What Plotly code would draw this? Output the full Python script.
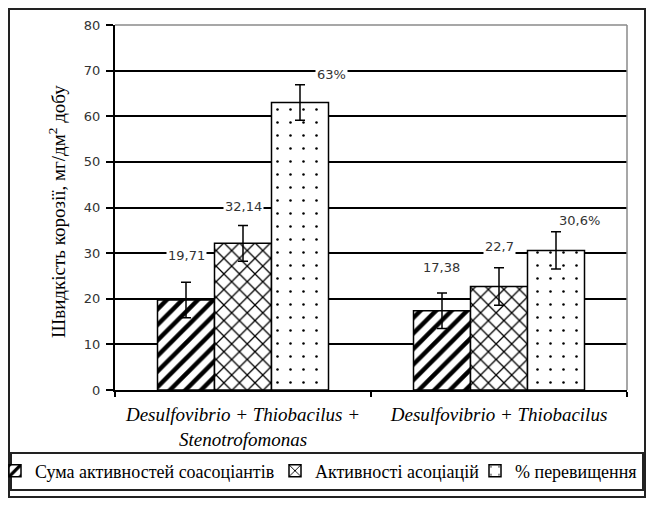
import plotly.graph_objects as go

# ---- data ----
categories = ["Desulfovibrio + Thiobacilus +<br>Stenotrofomonas", "Desulfovibrio + Thiobacilus"]
series_names = ["Сума активностей соасоціантів", "Активності асоціацій", "% перевищення"]
sum_activity = [19.71, 17.38]
assoc_activity = [32.14, 22.7]
excess_pct = [63.0, 30.6]
sum_err = [3.9, 3.9]
assoc_err = [3.9, 4.1]
excess_err = [3.9, 4.1]
sum_labels = ["19,71", "17,38"]
assoc_labels = ["32,14", "22,7"]
excess_labels = ["63%", "30,6%"]
y_ticks = [0, 10, 20, 30, 40, 50, 60, 70, 80]

# ---- style ----
OFF = 8                      # browser body margin
W, H = 658 - OFF, 508 - OFF
PLOT_L, PLOT_R, PLOT_T, PLOT_B = 115, 627, 25, 390   # page pixels
ML, MR, MT, MB = PLOT_L - OFF, W - (PLOT_R - OFF), PLOT_T - OFF, H - (PLOT_B - OFF)
PW, PH = PLOT_R - PLOT_L, PLOT_B - PLOT_T
BARGAP = 0.332
bar_px = PW / len(categories) * (1 - BARGAP) / 3

patterns = [
    dict(shape="/", size=11, solidity=0.4, fgcolor="black", bgcolor="white", fillmode="replace"),
    dict(shape="x", size=11, solidity=0.22, fgcolor="black", bgcolor="white", fillmode="replace"),
    dict(shape=".", size=13, solidity=0.03, fgcolor="black", bgcolor="white", fillmode="replace"),
]
# label offsets (px) relative to the top of each error bar: [series][category]
label_dx = [[0.5, 0], [0, 0], [31, 23.5]]
label_dy = [[27, 25], [19, 21], [10, 11]]
# legend text start positions (page px)
legend_text_x = [35, 315, 515]
legend_names = ["legend", "legend2", "legend3"]

serif = "Liberation Serif"
sans = "DejaVu Sans"


def px_x(p):
    return (p - PLOT_L) / PW


def px_y(p):
    return (PLOT_B - p) / PH


values = [sum_activity, assoc_activity, excess_pct]
errors = [sum_err, assoc_err, excess_err]
labels = [sum_labels, assoc_labels, excess_labels]

fig = go.Figure()
for i in range(3):
    fig.add_trace(go.Bar(
        x=categories, y=values[i], name=series_names[i], legend=legend_names[i],
        marker=dict(color="white", pattern=patterns[i], line=dict(color="black", width=1.5)),
        error_y=dict(type="data", array=errors[i], visible=True, color="black", thickness=1.5, width=5),
    ))

annotations = []
for i in range(3):
    for j, cat in enumerate(categories):
        annotations.append(dict(
            x=cat, xref="x", y=values[i][j] + errors[i][j], yref="y",
            text=labels[i][j], showarrow=False, bgcolor="white",
            xshift=(i - 1) * bar_px + label_dx[i][j], yshift=label_dy[i][j],
            yanchor="middle", xanchor="center",
            font=dict(family=sans, size=13, color="#333"),
        ))

annotations.append(dict(
    x=px_x(57), xref="paper", y=px_y(212), yref="paper",
    text="Швидкість корозії, мг/дм<sup>2</sup> добу", textangle=-90, showarrow=False,
    xanchor="center", yanchor="middle", font=dict(family=serif, size=19, color="black"),
))

shapes = [
    dict(type="line", xref="paper", yref="paper", x0=0, x1=1, y0=1, y1=1,
         line=dict(color="#8a8a8a", width=1.5), layer="above"),
    dict(type="line", xref="paper", yref="paper", x0=1, x1=1, y0=0, y1=1,
         line=dict(color="#8a8a8a", width=1.5), layer="above"),
    dict(type="rect", xref="paper", yref="paper", x0=px_x(11), x1=px_x(643), y0=px_y(490), y1=px_y(453),
         line=dict(color="#222", width=2)),
    dict(type="rect", xref="paper", yref="paper", x0=px_x(9), x1=px_x(645), y0=px_y(497), y1=px_y(9),
         line=dict(color="#222", width=2)),
]

legend_common = dict(orientation="h", xanchor="left", y=px_y(471), yanchor="middle",
                     font=dict(family=serif, size=18, color="black"), itemwidth=30,
                     bgcolor="rgba(0,0,0,0)", borderwidth=0)
legends = {}
for name, tx in zip(legend_names, legend_text_x):
    legends[name] = dict(legend_common, x=px_x(tx - 40))

fig.update_layout(
    width=W, height=H,
    font=dict(family=serif, color="black"),
    margin=dict(l=ML, r=MR, t=MT, b=MB, pad=0, autoexpand=False),
    paper_bgcolor="white", plot_bgcolor="white",
    barmode="group", bargap=BARGAP, bargroupgap=0,
    showlegend=True,
    annotations=annotations, shapes=shapes,
    xaxis=dict(type="category", showline=True, linecolor="black", linewidth=2,
               ticks="outside", tickson="boundaries", ticklen=5, tickwidth=2, tickcolor="black",
               ticklabelstandoff=6,
               tickfont=dict(family=serif, size=19, color="black", style="italic"),
               showgrid=False, zeroline=False),
    yaxis=dict(range=[0, 80], tickvals=y_ticks, showline=True, linecolor="black", linewidth=2,
               ticks="outside", ticklen=7, tickwidth=2, tickcolor="black",
               ticklabelstandoff=3,
               tickfont=dict(family=sans, size=13, color="#333"),
               showgrid=True, gridcolor="black", gridwidth=2, zeroline=False),
    **legends,
)

fig.write_html("out.html")
